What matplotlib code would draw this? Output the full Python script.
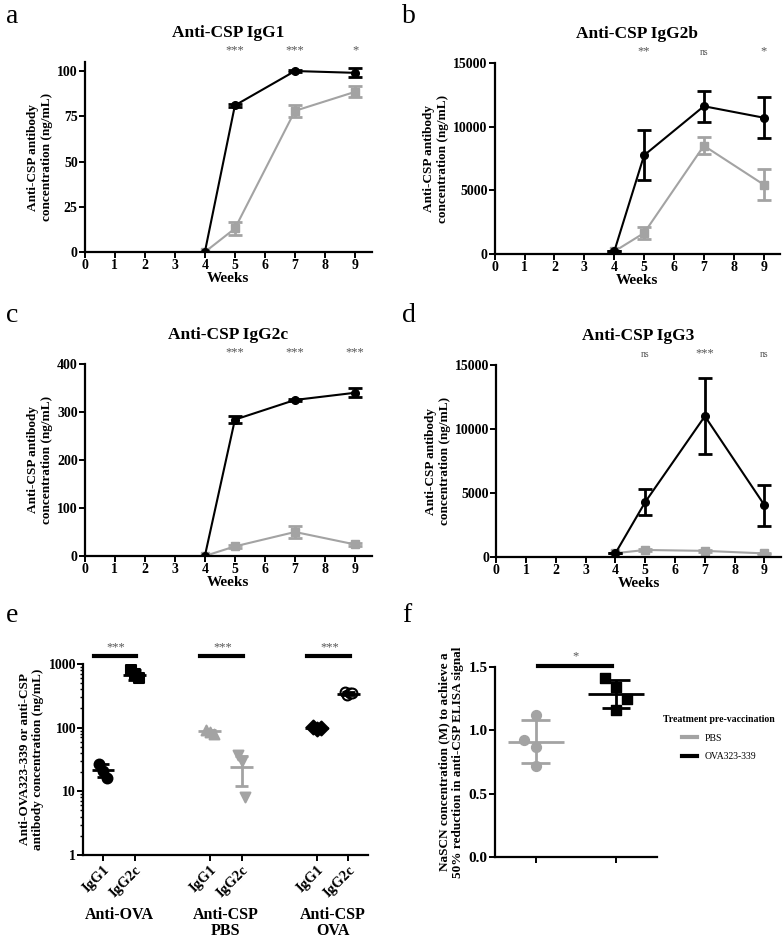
import numpy as np
import matplotlib
matplotlib.use('Agg')
import matplotlib.pyplot as plt
from matplotlib.lines import Line2D

plt.rcParams['font.family'] = ['Liberation Serif', 'DejaVu Serif']
plt.rcParams['font.weight'] = 'bold'

GRAY = '#a3a3a3'

# time-course data (weeks)
weeks = [4, 5, 7, 9]

igg1_ova = [0, 81, 100, 99]
igg1_ova_err = [0, 0.6, 0.6, 2.5]
igg1_pbs = [0, 13, 78, 88.5]
igg1_pbs_err = [0, 3.5, 3.5, 3]
igg1_sig = ['***', '***', '*']

igg2b_ova = [200, 7750, 11600, 10700]
igg2b_ova_err = [0, 1950, 1200, 1600]
igg2b_pbs = [200, 1650, 8500, 5450]
igg2b_pbs_err = [0, 450, 650, 1250]
igg2b_sig = ['**', 'ns', '*']

igg2c_ova = [0, 284, 325, 340]
igg2c_ova_err = [0, 8, 2, 9]
igg2c_pbs = [0, 20, 50, 24]
igg2c_pbs_err = [0, 3, 12, 3]
igg2c_sig = ['***', '***', '***']

igg3_ova = [300, 4300, 11000, 4050]
igg3_ova_err = [0, 1050, 2950, 1600]
igg3_pbs = [300, 550, 480, 280]
igg3_pbs_err = [0, 80, 80, 60]
igg3_sig = ['ns', '***', 'ns']

# panel e
e_ticks = ['IgG1', 'IgG2c', 'IgG1', 'IgG2c', 'IgG1', 'IgG2c']
e_groups = ['Anti-OVA', 'Anti-CSP\nPBS', 'Anti-CSP\nOVA']
e_points = [[27, 21, 16], [800, 700, 600], [92, 86, 80],
            [37, 30, 8], [102, 96, 98], [360, 330, 345, 355]]
e_mean = [21.5, 680, 87, 24, 98, 342]
e_lo = [16.5, 570, 82, 12, 93, 320]
e_hi = [27, 800, 92, 36, 103, 365]

# panel f
f_pbs = [1.12, 0.92, 0.87, 0.72]
f_pbs_dx = [0, -0.14, 0, 0]
f_pbs_mean, f_pbs_lo, f_pbs_hi = 0.91, 0.745, 1.08
f_ova = [1.41, 1.34, 1.25, 1.16]
f_ova_dx = [-0.14, 0, 0.14, 0]
f_ova_mean, f_ova_lo, f_ova_hi = 1.29, 1.18, 1.40

fig = plt.figure(figsize=(7.84, 9.39), dpi=100)


def style(ax):
    for s in ['top', 'right']:
        ax.spines[s].set_visible(False)
    for s in ['left', 'bottom']:
        ax.spines[s].set_linewidth(1.6)
    ax.tick_params(width=1.4, length=4, labelsize=10, pad=1)
    for t in ax.get_xticklabels() + ax.get_yticklabels():
        t.set_fontweight('bold')


def timecourse(rect, title, ova, ova_err, pbs, pbs_err, sig, ymax, yticks, letter, lpos):
    ax = fig.add_axes(rect)
    ax.errorbar(weeks, pbs, yerr=pbs_err, color=GRAY, marker='s', ms=5.5,
                lw=1.5, capsize=5, elinewidth=2, capthick=2, zorder=2)
    ax.errorbar(weeks, ova, yerr=ova_err, color='black', marker='o', ms=5.5,
                lw=1.5, capsize=5, elinewidth=2, capthick=2, zorder=3)
    ax.set_xlim(0, 9.55)
    ax.set_ylim(0, ymax)
    ax.set_xticks(range(10))
    ax.set_yticks(yticks)
    style(ax)
    ax.set_xlabel('Weeks', fontsize=11, fontweight='bold', labelpad=0)
    ax.set_ylabel('Anti-CSP antibody\nconcentration (ng/mL)', fontsize=9.5,
                  fontweight='bold', labelpad=3)
    ax.set_title(title, fontsize=12.5, fontweight='bold', pad=18)
    for w, s in zip(weeks[1:], sig):
        ax.text(w, 1.03, s, transform=ax.get_xaxis_transform(), ha='center',
                va='bottom', fontsize=7 if s == 'ns' else 9, color='#555555',
                fontweight='normal')
    fig.text(lpos[0], lpos[1], letter, fontsize=20, fontweight='normal', va='center')
    return ax


timecourse([0.108, 0.7316, 0.366, 0.2024], 'Anti-CSP IgG1', igg1_ova, igg1_ova_err,
           igg1_pbs, igg1_pbs_err, igg1_sig, 105, [0, 25, 50, 75, 100], 'a', (0.008, 0.982))
timecourse([0.631, 0.7295, 0.364, 0.2035], 'Anti-CSP IgG2b', igg2b_ova, igg2b_ova_err,
           igg2b_pbs, igg2b_pbs_err, igg2b_sig, 15000, [0, 5000, 10000, 15000], 'b', (0.513, 0.982))
timecourse([0.108, 0.4079, 0.366, 0.2045], 'Anti-CSP IgG2c', igg2c_ova, igg2c_ova_err,
           igg2c_pbs, igg2c_pbs_err, igg2c_sig, 400, [0, 100, 200, 300, 400], 'c', (0.008, 0.664))
timecourse([0.633, 0.4068, 0.363, 0.2045], 'Anti-CSP IgG3', igg3_ova, igg3_ova_err,
           igg3_pbs, igg3_pbs_err, igg3_sig, 15000, [0, 5000, 10000, 15000], 'd', (0.513, 0.664))

# panel e
axe = fig.add_axes([0.106, 0.0895, 0.363, 0.2034])
pos = [0, 1, 3.375, 4.375, 6.75, 7.75]
e_mark = ['o', 's', '^', 'v', 'D', 'o']
e_col = ['black', 'black', GRAY, GRAY, 'black', 'black']
e_face = ['black', 'black', GRAY, GRAY, 'black', 'white']
for i in range(6):
    n = len(e_points[i])
    dx = np.linspace(-0.12, 0.12, n) if n > 1 else [0]
    axe.scatter(pos[i] + np.array(dx), e_points[i], marker=e_mark[i], s=50,
                facecolor=e_face[i], edgecolor=e_col[i], linewidth=1.5, zorder=3)
    axe.hlines(e_mean[i], pos[i] - 0.36, pos[i] + 0.36, color=e_col[i], lw=2, zorder=4)
    axe.vlines(pos[i], e_lo[i], e_hi[i], color=e_col[i], lw=2, zorder=4)
    axe.hlines([e_lo[i], e_hi[i]], pos[i] - 0.2, pos[i] + 0.2, color=e_col[i], lw=2, zorder=4)
axe.set_yscale('log')
axe.set_ylim(1, 1000)
axe.set_xlim(-0.63, 8.36)
axe.set_yticks([1, 10, 100, 1000])
axe.set_yticklabels(['1', '10', '100', '1000'])
axe.set_xticks(pos)
axe.set_xticklabels(e_ticks, rotation=45, ha='right', rotation_mode='anchor')
style(axe)
axe.tick_params(axis='y', which='minor', length=2, width=1)
axe.tick_params(axis='x', labelsize=10.5, pad=2)
for k in range(3):
    x1, x2 = pos[2 * k], pos[2 * k + 1]
    axe.plot([x1 - 0.3, x2 + 0.05], [1350, 1350], color='black', lw=3, clip_on=False)
    axe.text((x1 + x2) / 2 - 0.1, 1450, '***', ha='center', va='bottom', fontsize=9,
             color='#555555', fontweight='normal')
    axe.text((x1 + x2) / 2, -0.27, e_groups[k], transform=axe.get_xaxis_transform(),
             ha='center', va='top', fontsize=11.5, fontweight='bold', linespacing=1.05)
axe.set_ylabel('Anti-OVA323-339 or anti-CSP\nantibody concentration (ng/mL)',
               fontsize=9.5, fontweight='bold', labelpad=3)
fig.text(0.008, 0.345, 'e', fontsize=20, fontweight='normal', va='center')

# panel f
axf = fig.add_axes([0.631, 0.0873, 0.207, 0.2024])
axf.scatter(1 + np.array(f_pbs_dx), f_pbs, marker='o', s=50, color=GRAY, zorder=3)
axf.scatter(2 + np.array(f_ova_dx), f_ova, marker='s', s=50, color='black', zorder=3)
for x, m, lo, hi, c in [(1, f_pbs_mean, f_pbs_lo, f_pbs_hi, GRAY),
                        (2, f_ova_mean, f_ova_lo, f_ova_hi, 'black')]:
    axf.hlines(m, x - 0.35, x + 0.35, color=c, lw=2, zorder=4)
    axf.vlines(x, lo, hi, color=c, lw=2, zorder=4)
    axf.hlines([lo, hi], x - 0.18, x + 0.18, color=c, lw=2, zorder=4)
axf.plot([1.03, 1.95], [1.51, 1.51], color='black', lw=3, clip_on=False)
axf.text(1.5, 1.54, '*', ha='center', va='bottom', fontsize=9, color='#555555',
         fontweight='normal')
axf.set_xlim(0.49, 2.51)
axf.set_ylim(0, 1.5)
axf.set_xticks([1, 2])
axf.set_xticklabels(['', ''])
axf.set_yticks([0, 0.5, 1.0, 1.5])
axf.set_yticklabels(['0.0', '0.5', '1.0', '1.5'])
style(axf)
axf.tick_params(labelsize=11)
axf.set_ylabel('NaSCN concentration (M) to achieve a\n50% reduction in anti-CSP ELISA signal',
               fontsize=9.5, fontweight='bold', labelpad=3)
handles = [Line2D([], [], color=GRAY, lw=3), Line2D([], [], color='black', lw=3)]
leg = fig.legend(handles, ['PBS', 'OVA323-339'], loc='upper left',
                 bbox_to_anchor=(0.835, 0.248), frameon=False, title='Treatment pre-vaccination',
                 prop={'size': 7, 'weight': 'normal'}, handlelength=1.5, labelspacing=1.0)
leg.get_title().set_fontsize(7)
leg.get_title().set_fontweight('bold')
fig.text(0.513, 0.345, 'f', fontsize=20, fontweight='normal', va='center')

fig.savefig('out.png', dpi=100)
